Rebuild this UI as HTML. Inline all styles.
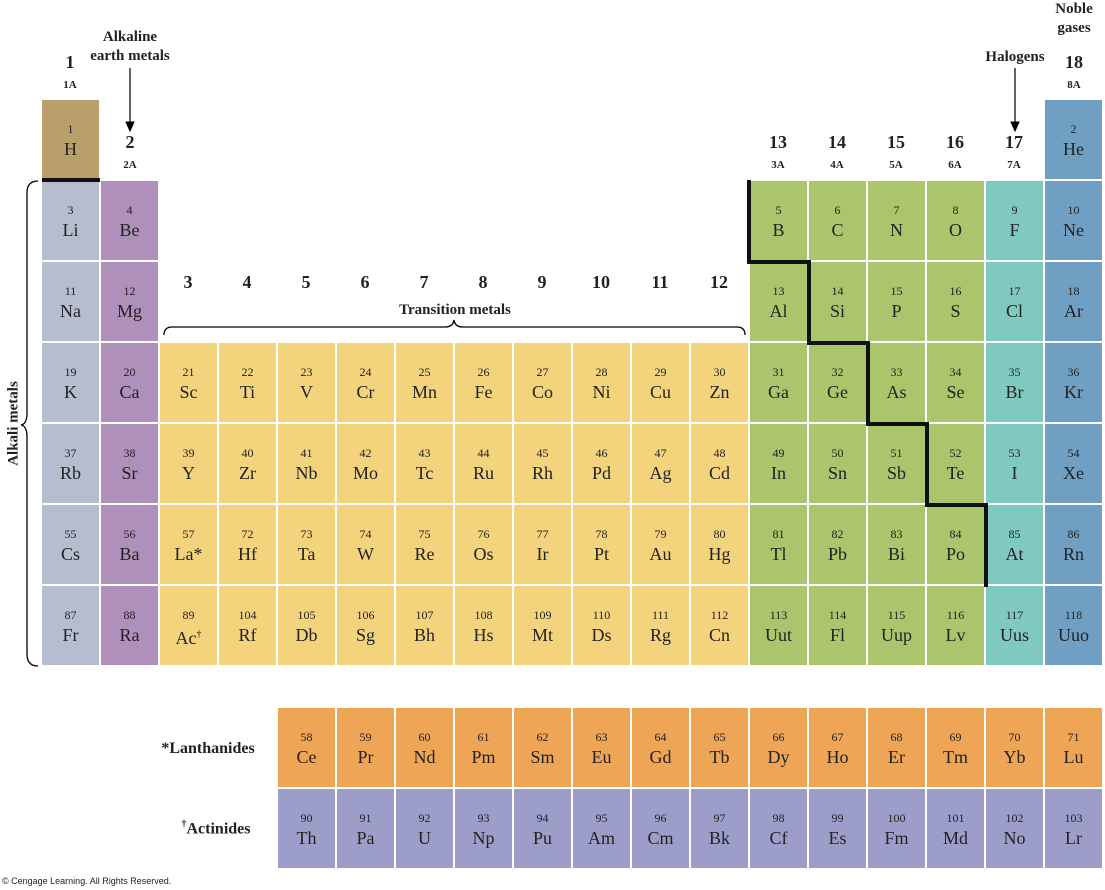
<!DOCTYPE html>
<html><head><meta charset="utf-8"><style>
body{margin:0;width:1105px;height:890px;background:#fff;position:relative;overflow:hidden;font-family:"Liberation Serif",serif;color:#222}
.c{position:absolute;width:57px;height:79px;text-align:center}
.c .n{position:absolute;top:23px;left:0;right:0;font-size:12px;line-height:12px}
.c .s{position:absolute;top:39px;left:0;right:0;font-size:18px;line-height:20px}
.t{position:absolute;font-weight:bold;text-align:center;transform:translateX(-50%);white-space:nowrap}
.g{font-size:18px}.a{font-size:11px}
</style></head><body>
<div id="p"></div>
<svg width="1105" height="890" style="position:absolute;left:0;top:0" fill="none" stroke="#000">
<path d="M749 180 V262 H809 V343 H868 V424 H927 V505 H986 V587" stroke="#111" stroke-width="4"/>
<line x1="42" y1="180" x2="100" y2="180" stroke-width="4" stroke="#111"/>
<path d="M38 181 Q27 181 27 193 V413 Q27 424 21 425 Q27 426 27 437 V654 Q27 666 38 666" stroke-width="1.3"/>
<path d="M164 335 Q164 327 172 327 H445 Q453 327 454 320 Q455 327 463 327 H737 Q745 327 745 335" stroke-width="1.3"/>
<line x1="130" y1="68" x2="130" y2="128" stroke-width="1.2"/>
<path d="M126 122 L130 131 L134 122Z" fill="#000"/>
<line x1="1015" y1="68" x2="1015" y2="128" stroke-width="1.2"/>
<path d="M1011 122 L1015 131 L1019 122Z" fill="#000"/>
</svg>
<div class="t g" style="left:70px;top:52px">1</div><div class="t a" style="left:70px;top:79px">1A</div>
<div class="t g" style="left:130px;top:132px">2</div><div class="t a" style="left:130px;top:159px">2A</div>
<div class="t g" style="left:1074px;top:52px">18</div><div class="t a" style="left:1074px;top:79px">8A</div>
<div class="t" style="left:130px;top:28px;font-size:15px;line-height:19px">Alkaline<br>earth metals</div>
<div class="t" style="left:1074px;top:0px;font-size:15px;line-height:19px">Noble<br>gases</div>
<div class="t" style="left:1015px;top:49px;font-size:15px">Halogens</div>
<div class="t" style="left:455px;top:302px;font-size:15px">Transition metals</div>
<div class="t" style="left:14px;top:415px;font-size:15px;transform:translateX(-50%) rotate(-90deg)">Alkali metals</div>
<div class="t" style="left:208px;top:740px;font-size:16px">*Lanthanides</div>
<div class="t" style="left:216px;top:819px;font-size:16px"><sup style="font-size:10px">†</sup>Actinides</div>
<div style="position:absolute;left:2px;top:876px;font-family:'Liberation Sans',sans-serif;font-size:9px">© Cengage Learning. All Rights Reserved.</div>
<script>
var C={h:'#b9a06b',al:'#b5bdcf',ae:'#af90ba',tr:'#f3d37c',gr:'#aac56b',ha:'#80c9c1',no:'#6fa0c4',la:'#eea556',ac:'#9c9ec9'};
var p=document.getElementById('p'),h='';
function cell(col,y,n,s,c){h+='<div class="c" style="left:'+(42+(col-1)*59)+'px;top:'+y+'px;background:'+c+'"><div class="n">'+n+'</div><div class="s">'+s+'</div></div>';}
function row(r){return 100+(r-1)*81;}
cell(1,row(1),1,'H',C.h);cell(18,row(1),2,'He',C.no);
var rows=[
[[1,3,'Li'],[2,4,'Be'],[13,5,'B'],[14,6,'C'],[15,7,'N'],[16,8,'O'],[17,9,'F'],[18,10,'Ne']],
[[1,11,'Na'],[2,12,'Mg'],[13,13,'Al'],[14,14,'Si'],[15,15,'P'],[16,16,'S'],[17,17,'Cl'],[18,18,'Ar']]];
var full=[
[19,'K Ca Sc Ti V Cr Mn Fe Co Ni Cu Zn Ga Ge As Se Br Kr'],
[37,'Rb Sr Y Zr Nb Mo Tc Ru Rh Pd Ag Cd In Sn Sb Te I Xe'],
[55,'Cs Ba La* Hf Ta W Re Os Ir Pt Au Hg Tl Pb Bi Po At Rn'],
[87,'Fr Ra Ac† Rf Db Sg Bh Hs Mt Ds Rg Cn Uut Fl Uup Lv Uus Uuo']];
function col(c){return c==1?C.al:c==2?C.ae:c<=12?C.tr:c<=16?C.gr:c==17?C.ha:C.no;}
rows.forEach(function(r,i){r.forEach(function(e){cell(e[0],row(i+2),e[1],e[2],col(e[0]));});});
full.forEach(function(f,i){var s=f[1].split(' ');s.forEach(function(sym,j){var n=f[0]+j;if(j>=3&&f[0]>=55)n=f[0]+j+14;
if(sym=='La*')sym='La*';if(sym=='Ac†')sym='Ac<sup style="font-size:10px">†</sup>';cell(j+1,row(i+4),n,sym,col(j+1));});});
'Ce Pr Nd Pm Sm Eu Gd Tb Dy Ho Er Tm Yb Lu'.split(' ').forEach(function(s,j){cell(5+j,708,58+j,s,C.la);});
'Th Pa U Np Pu Am Cm Bk Cf Es Fm Md No Lr'.split(' ').forEach(function(s,j){cell(5+j,789,90+j,s,C.ac);});
var gn=[[3,283],[4,283],[5,283],[6,283],[7,283],[8,283],[9,283],[10,283],[11,283],[12,283]];
gn.forEach(function(g){h+='<div class="t g" style="left:'+(70+(g[0]-1)*59)+'px;top:'+(g[1]-11)+'px">'+g[0]+'</div>';});
[13,14,15,16,17].forEach(function(g){var x=70+(g-1)*59;h+='<div class="t g" style="left:'+x+'px;top:132px">'+g+'</div><div class="t a" style="left:'+x+'px;top:159px">'+(g-10)+'A</div>';});
p.innerHTML=h;
</script>
</body></html>
